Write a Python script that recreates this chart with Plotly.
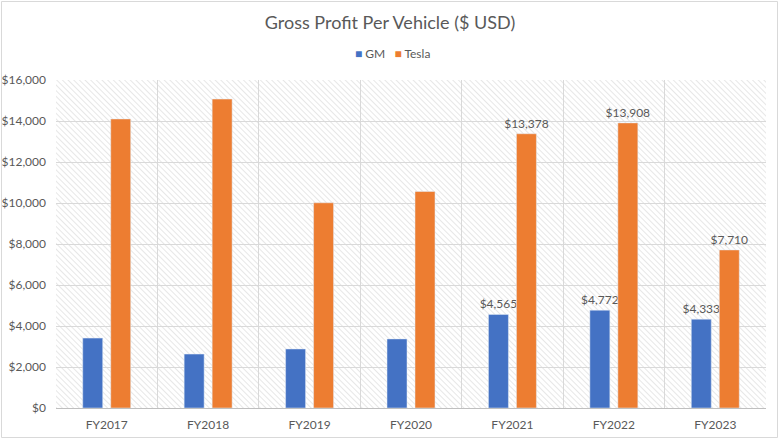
import base64
import plotly.graph_objects as go

years = ["FY2017", "FY2018", "FY2019", "FY2020", "FY2021", "FY2022", "FY2023"]
gm = [3410, 2630, 2880, 3370, 4565, 4772, 4333]
tesla = [14100, 15070, 10010, 10560, 13378, 13908, 7710]
gm_labels = ["", "", "", "", "$4,565", "$4,772", "$4,333"]
tesla_labels = ["", "", "", "", "$13,378", "$13,908", "$7,710"]
y_ticks = [0, 2000, 4000, 6000, 8000, 10000, 12000, 14000, 16000]
y_tick_text = ["$0", "$2,000", "$4,000", "$6,000", "$8,000", "$10,000", "$12,000", "$14,000", "$16,000"]

W, H = 780, 440
ML, MR, MT, MB = 56, 14, 80, 32
PW, PH = W - ML - MR, H - MT - MB

GM_COLOR, TESLA_COLOR = "#4472C4", "#ED7D31"

svg = f'''<svg xmlns="http://www.w3.org/2000/svg" width="{PW}" height="{PH}" viewBox="0 0 {PW} {PH}" preserveAspectRatio="none">
<defs><pattern id="p" width="4" height="4" patternUnits="userSpaceOnUse" patternTransform="rotate(-45)">
<line x1="0" y1="0" x2="0" y2="4" stroke="#d2d2d2" stroke-width="1.1"/></pattern></defs>
<rect width="{PW}" height="{PH}" fill="white"/><rect width="{PW}" height="{PH}" fill="url(#p)"/></svg>'''
src = "data:image/svg+xml;base64," + base64.b64encode(svg.encode()).decode()

font = "Lato, 'Open Sans', sans-serif"
gray = "#595959"

fig = go.Figure()
fig.add_trace(go.Bar(name="GM", x=years, y=gm, marker_color=GM_COLOR,
                     text=gm_labels, textposition="outside", cliponaxis=False,
                     constraintext="none",
                     textfont=dict(size=12, color=gray, family=font)))
fig.add_trace(go.Bar(name="Tesla", x=years, y=tesla, marker_color=TESLA_COLOR,
                     text=tesla_labels, textposition="outside", cliponaxis=False,
                     constraintext="none",
                     textfont=dict(size=12, color=gray, family=font)))

legend_text = (f"<span style='color:{GM_COLOR}'>■</span> GM   "
               f"<span style='color:{TESLA_COLOR}'>■</span> Tesla")

fig.update_layout(
    width=W, height=H,
    margin=dict(l=ML, r=MR, t=MT, b=MB, autoexpand=False),
    paper_bgcolor="white", plot_bgcolor="white",
    font=dict(family=font, color=gray, size=12),
    showlegend=False,
    title=dict(text="Gross Profit Per Vehicle ($ USD)", x=0.5, xref="container",
               xanchor="center", y=1 - 23 / H, yanchor="middle",
               font=dict(size=18, color=gray, family=font)),
    annotations=[dict(text=legend_text, xref="paper", yref="paper",
                      x=(392 - ML) / PW, y=1 + (MT - 54) / PH, xanchor="center", yanchor="middle",
                      showarrow=False, font=dict(size=12, color=gray, family=font))],
    barmode="group", bargap=0.448, bargroupgap=0.286,
    xaxis=dict(tickson="boundaries", showgrid=True, gridcolor="#d9d9d9", gridwidth=1,
               ticks="", showline=True, linecolor="#bfbfbf", automargin=False,
               ticklabelstandoff=6,
               tickfont=dict(size=12, color=gray), range=[-0.5, 6.5]),
    yaxis=dict(range=[0, 16000], tickvals=y_ticks, ticktext=y_tick_text,
               showgrid=True, gridcolor="#d9d9d9", gridwidth=1, zeroline=False,
               automargin=False,
               ticks="", ticklabelstandoff=9, tickfont=dict(size=12, color=gray)),
    images=[dict(source=src, xref="paper", yref="paper", x=0, y=1, sizex=1, sizey=1,
                 xanchor="left", yanchor="top", sizing="stretch", layer="below")],
    shapes=[dict(type="rect", xref="paper", yref="paper",
                 x0=-(ML - 1.5) / PW, x1=1 + (MR - 2.5) / PW,
                 y0=-(MB - 2.5) / PH, y1=1 + (MT - 1.5) / PH,
                 line=dict(color="#d9d9d9", width=1), fillcolor="rgba(0,0,0,0)")],
)

fig.write_html("out.html", config={"displayModeBar": False},
               post_script="document.body.style.margin='0';")
